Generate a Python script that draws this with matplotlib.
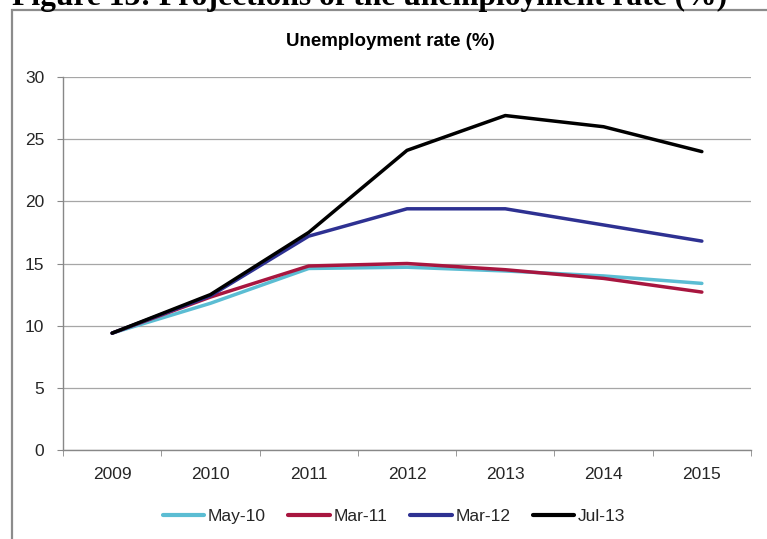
import matplotlib
matplotlib.use('Agg')
import matplotlib.pyplot as plt
from matplotlib.patches import Rectangle
from matplotlib.ticker import MultipleLocator, FixedLocator

# values
years = ['2009', '2010', '2011', '2012', '2013', '2014', '2015']
may10 = [9.4, 11.8, 14.6, 14.7, 14.4, 14.0, 13.4]
mar11 = [9.4, 12.3, 14.8, 15.0, 14.5, 13.8, 12.7]
mar12 = [9.4, 12.4, 17.2, 19.4, 19.4, 18.1, 16.8]
jul13 = [9.4, 12.5, 17.5, 24.1, 26.9, 26.0, 24.0]

series = [('May-10', may10, '#5bbdd3'),
          ('Mar-11', mar11, '#a8163f'),
          ('Mar-12', mar12, '#2e3192'),
          ('Jul-13', jul13, '#000000')]

W, H = 767, 539
fig = plt.figure(figsize=(W / 100, H / 100), dpi=100)

# outer frame of the chart (right and bottom run off the page)
fig.patches.append(Rectangle((12 / W, -0.1), 2, (H - 10) / H + 0.1,
                             transform=fig.transFigure, fill=False,
                             edgecolor='#8c8c8c', lw=1.6))

# page caption, cut off at the top edge like in the source
fig.text(12 / W, (H - 5) / H, 'Figure 13: Projections of the unemployment rate (%)',
         family='Liberation Serif', weight='bold', fontsize=22.7,
         ha='left', va='baseline')

ax = fig.add_axes([63 / W, (H - 450) / H, (751 - 63) / W, (450 - 77) / H])
x = list(range(len(years)))
for name, vals, col in series:
    ax.plot(x, vals, color=col, lw=2.5, label=name,
            solid_joinstyle='round', solid_capstyle='round')

ax.set_xlim(-0.5, len(years) - 0.5)
ax.set_ylim(0, 30)
ax.yaxis.set_major_locator(MultipleLocator(5))
ax.grid(axis='y', color='#a6a6a6', lw=0.9)
ax.set_axisbelow(True)

ax.set_xticks(x)
ax.set_xticklabels(years)
ax.xaxis.set_minor_locator(FixedLocator([i - 0.5 for i in range(len(years) + 1)]))
ax.tick_params(axis='x', which='major', length=0, pad=12.5)
ax.tick_params(axis='x', which='minor', length=4, color='#888888', direction='out')
ax.tick_params(axis='y', length=4.5, color='#888888', pad=9)
for lab in ax.get_xticklabels() + ax.get_yticklabels():
    lab.set_family('Liberation Sans')
    lab.set_fontsize(12.5)
    lab.set_color('#262626')

for s in ['top', 'right']:
    ax.spines[s].set_visible(False)
for s in ['left', 'bottom']:
    ax.spines[s].set_color('#888888')
    ax.spines[s].set_linewidth(1.0)

fig.text(390 / W, (H - 41) / H, 'Unemployment rate (%)',
         family='Liberation Sans', weight='bold',
         fontsize=13.5, ha='center', va='center')

leg = fig.legend(loc='center', bbox_to_anchor=(394 / W, (H - 516) / H),
                 ncol=4, frameon=False, handlelength=2.4, handletextpad=0.2,
                 columnspacing=1.3, prop={'family': 'Liberation Sans', 'size': 12.5})
for t in leg.get_texts():
    t.set_color('#262626')
for h in leg.get_lines():
    h.set_linewidth(3)

fig.savefig('out.png', dpi=100)
